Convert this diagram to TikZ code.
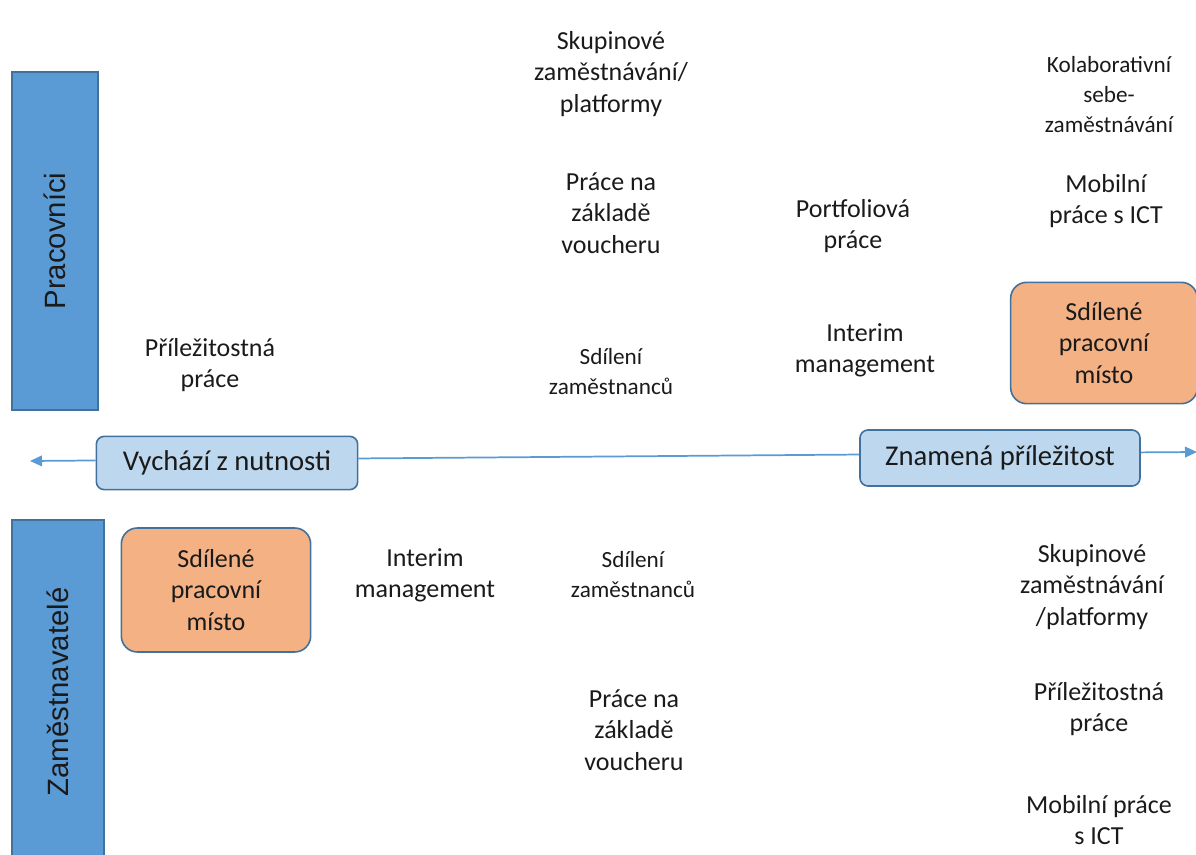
\documentclass[tikz,border=0pt]{standalone}
\usepackage{fontspec}
\setmainfont{Carlito}
\newfontfamily\barfont{Liberation Sans}
\usetikzlibrary{arrows.meta}
\definecolor{barblue}{HTML}{5B9BD5}
\definecolor{edgeblue}{HTML}{41719C}
\definecolor{lightblue}{HTML}{BDD7EE}
\definecolor{peach}{HTML}{F4B183}
\definecolor{ink}{HTML}{1A1A1A}

\begin{document}
\begin{tikzpicture}[x=0.75pt, y=-0.75pt,
	bar/.style={draw=edgeblue, fill=barblue, line width=1pt, rotate=90, text=ink,
		font=\barfont\fontsize{22}{26}\selectfont},
	pole/.style={draw=edgeblue, fill=lightblue, line width=1.2pt, rounded corners=6pt,
		text=ink, font=\fontsize{21.5}{25}\selectfont},
	shared/.style={draw=edgeblue, fill=peach, line width=1.2pt, rounded corners=12pt,
		text=ink, align=center, font=\fontsize{19.5}{23.5}\selectfont},
	form/.style={align=center, text=ink, font=\fontsize{19.5}{23.5}\selectfont},
	smallform/.style={align=center, text=ink, font=\fontsize{17.4}{22.5}\selectfont},
	axis/.style={draw=barblue, line width=1.3pt}]
	\clip (0, 0) rectangle (1196, 855);
	% side bars
	\node[bar, minimum width=253.5pt, minimum height=64.5pt] (pracovnici) at (55, 241) {Pracovníci};
	\node[bar, minimum width=258pt, minimum height=69pt] (zamestnavatele) at (58, 692) {Zaměstnavatelé};
	% the axis
	\node[pole, minimum width=196pt, minimum height=40pt] (nutnost) at (227, 463) {Vychází z nutnosti};
	\node[pole, minimum width=210pt, minimum height=42pt] (prilezitost) at (1000, 458) {Znamená příležitost};
	\coordinate (lend) at (30, 461);
	\coordinate (rend) at (1197, 452);
	\draw[axis, -{Triangle[length=9pt, width=8pt]}] ([yshift=1.9pt]nutnost.west) -- (lend);
	\draw[axis] ([yshift=3.4pt]nutnost.east) -- ([yshift=2.6pt]prilezitost.west);
	\draw[axis, -{Triangle[length=9pt, width=8pt]}] ([yshift=4.2pt]prilezitost.east) -- (rend);
	% workers
	\node[form] (skup1) at (611, 74) {Skupinové\\zaměstnávání/\\platformy};
	\node[smallform] (kolab) at (1109, 95) {Kolaborativní\\sebe-\\zaměstnávání};
	\node[form] (vouch1) at (611, 213) {Práce na\\základě\\voucheru};
	\node[form] (portf) at (853, 226) {Portfoliová\\práce};
	\node[form] (mobil1) at (1106, 201) {Mobilní\\práce s ICT};
	\node[form] (prilez1) at (210, 365) {Příležitostná\\práce};
	\node[smallform] (sdil1) at (611, 372) {Sdílení\\zaměstnanců};
	\node[form] (inter1) at (865, 350) {Interim\\management};
	\node[shared, minimum width=140pt, minimum height=91pt] (misto1) at (1104, 343) {Sdílené\\pracovní\\místo};
	% employers
	\node[shared, minimum width=142pt, minimum height=93pt] (misto2) at (216, 590) {Sdílené\\pracovní\\místo};
	\node[form] (inter2) at (425, 575) {Interim\\management};
	\node[smallform] (sdil2) at (633, 575) {Sdílení\\zaměstnanců};
	\node[form] (skup2) at (1092, 587) {Skupinové\\zaměstnávání\\/platformy};
	\node[form] (vouch2) at (634, 730) {Práce na\\základě\\voucheru};
	\node[form] (prilez2) at (1099, 709) {Příležitostná\\práce};
	\node[form] (mobil2) at (1099, 820) {Mobilní práce\\s ICT};
\end{tikzpicture}
\end{document}
